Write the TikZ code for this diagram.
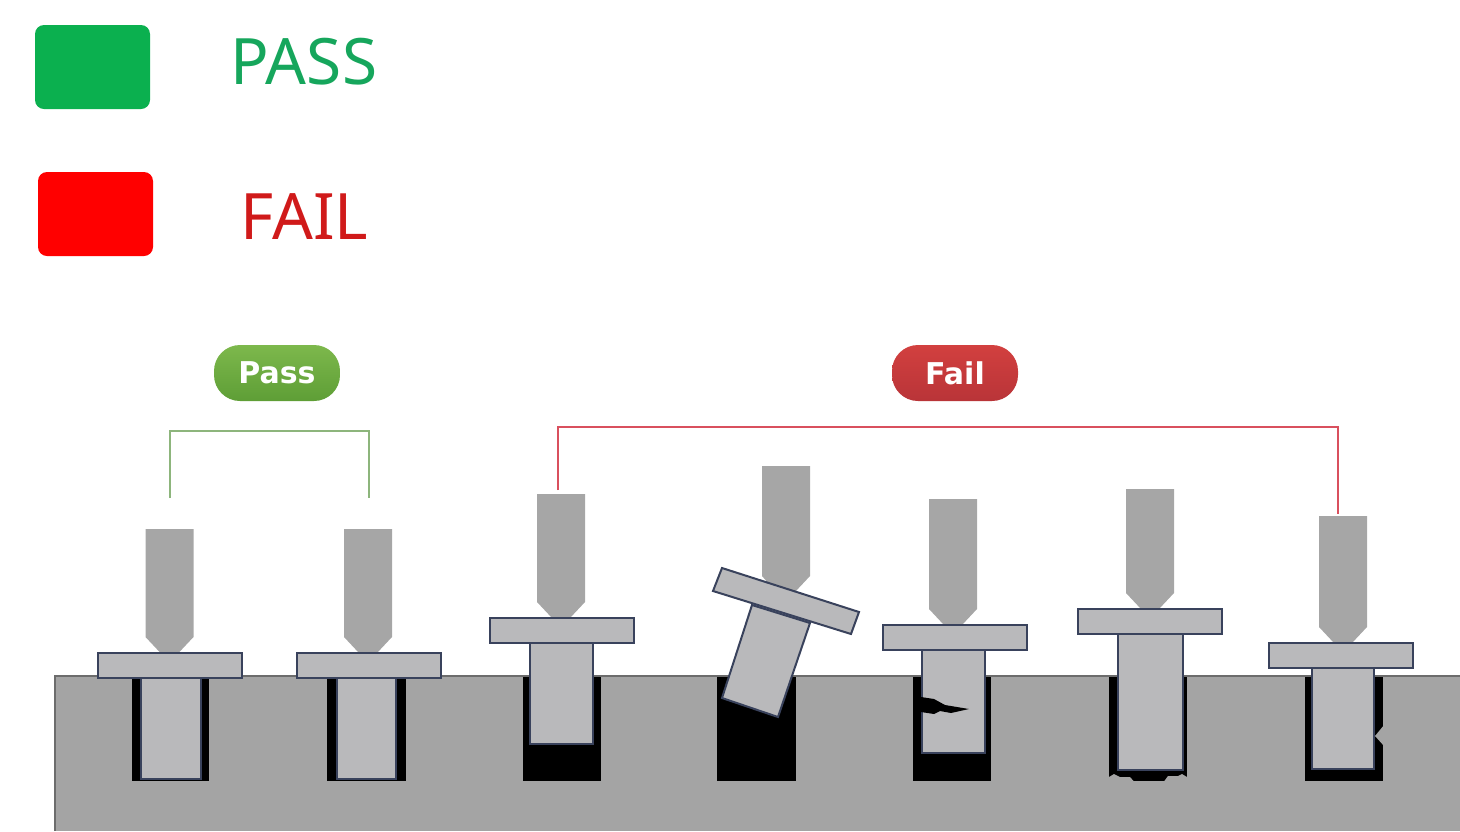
\documentclass[tikz,border=0pt]{standalone}
\usepackage{fontspec}
\setmainfont{Noto Sans}
\newfontfamily\pillfont{DejaVu Sans}
\usetikzlibrary{positioning,calc}
\definecolor{plategray}{HTML}{A4A4A4}
\definecolor{plateline}{HTML}{6C6C6C}
\definecolor{toolgray}{HTML}{A6A6A6}
\definecolor{pingray}{HTML}{B9B9BB}
\definecolor{pinline}{HTML}{39425C}
\definecolor{passgreen}{HTML}{0BB04F}
\definecolor{passtext}{HTML}{16A65C}
\definecolor{failtext}{HTML}{D01A1A}
\definecolor{passline}{HTML}{8DB57C}
\definecolor{failline}{HTML}{D9505E}
\definecolor{pillgreena}{HTML}{7DB84C}
\definecolor{pillgreenb}{HTML}{5E9E36}
\definecolor{pillreda}{HTML}{D2403F}
\definecolor{pillredb}{HTML}{B93438}
\tikzset{
  keybox/.style={minimum width=115pt,minimum height=84pt,inner sep=0pt,rounded corners=9pt},
  keytext/.style={inner sep=0pt,font=\fontsize{64}{64}\selectfont},
  pill/.style={minimum width=126pt,minimum height=56pt,inner sep=0pt,rounded corners=26pt,
    text=white,font=\pillfont\bfseries\fontsize{30}{30}\selectfont},
  toolshape/.style={fill=toolgray},
  pinshape/.style={fill=pingray,draw=pinline,line width=2pt,line join=miter},
  holeshape/.style={fill=black},
  bracket/.style={line width=2pt,line join=miter}
}
\begin{document}
\begin{tikzpicture}[x=1pt,y=-1pt]
  \useasboundingbox (0,0) rectangle (1460,831);
  % legend
  \node [keybox,fill=passgreen] (passkey) at (92.5,67) {};
  \node [keybox,fill=red] (failkey) at (95.5,214) {};
  \node [keytext,text=passtext,right=80pt of passkey,yshift=5pt] (password) {PASS};
  \node [keytext,text=failtext,right=87pt of failkey,yshift=-3pt] (failword) {FAIL};
  % labels
  \node [pill,top color=pillgreena,bottom color=pillgreenb] (passpill) at (277,373) {Pass};
  \node [pill,top color=pillreda,bottom color=pillredb] (failpill) at (955,373) {Fail};
  \coordinate (passa) at (170,498);
  \coordinate (passb) at (170,431);
  \coordinate (passc) at (369,431);
  \coordinate (passd) at (369,498);
  \draw [bracket,passline] (passa) -- (passb) -- (passc) -- (passd);
  \coordinate (faila) at (558,490);
  \coordinate (failb) at (558,427);
  \coordinate (failc) at (1338,427);
  \coordinate (faild) at (1338,514);
  \draw [bracket,failline] (faila) -- (failb) -- (failc) -- (faild);
  % plate
  \fill [plategray] (55,831) -- (55,676) -- (1460,676) -- (1460,831) -- cycle;
  \draw [plateline,line width=2pt] (55,831) -- (55,676) -- (1460,676);
  % straight pins: tool centre/tool top/head centre/head top/shank left/shank right/shank end/hole left/hole right
  \foreach \tc/\tt/\hc/\ht/\sl/\sr/\se/\hl/\hr in {
    169.5/529/170/653/141/201/779/132/209,
    368/529/368.5/653/337/396/779/327/406,
    561/494/562/618/530/593/744/523/601,
    953/499/954.5/625/921.5/985/753/913/991,
    1150/489/1150/609/1118/1183/770/1109/1187,
    1343/516/1341/643/1312/1373.5/769/1305/1383}{
    \fill [holeshape] (\hl,677) rectangle (\hr,781);
    \draw [pinshape] (\sl,\ht+12) rectangle (\sr,\se);
    \fill [toolshape] (\tc-24,\tt) -- (\tc+24,\tt) -- (\tc+24,\ht-16) -- (\tc+9,\ht) -- (\tc-9,\ht) -- (\tc-24,\ht-16) -- cycle;
    \draw [pinshape] (\hc-72,\ht) rectangle (\hc+72,\ht+24.5);
  }
  % tilted pin
  \fill [holeshape] (717,677) rectangle (796,781);
  \fill [toolshape] (762,466) -- (810,466) -- (810,576) -- (795,592) -- (776,592) -- (762,576) -- cycle;
  \draw [pinshape] (752,605) -- (810,623) -- (778,717) -- (722,698) -- cycle;
  \draw [pinshape] (722,568) -- (859,612) -- (851,634) -- (713,591) -- cycle;
  % crack in the fifth pin
  \fill [black] (921,697) -- (934,699) -- (945,705) -- (969,709) -- (951,713) -- (940,711) -- (934,714) -- (921,712) -- cycle;
  % worn hole floor
  \fill [plategray] (1109,781.5) -- (1109,777) -- (1114,774) -- (1120,777) -- (1130,777) -- (1134,781.5) -- cycle;
  \fill [plategray] (1164,781.5) -- (1168,776) -- (1178,776) -- (1182,774) -- (1187,777) -- (1187,781.5) -- cycle;
  % chipped hole wall
  \fill [plategray] (1384,725) -- (1375,736) -- (1384,746) -- cycle;
\end{tikzpicture}
\end{document}
